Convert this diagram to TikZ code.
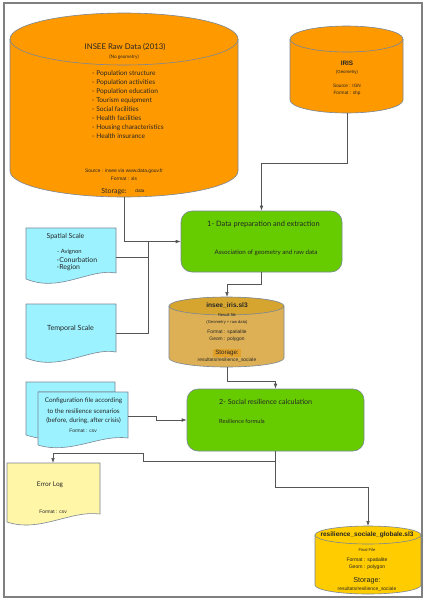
\documentclass[tikz,border=0pt]{standalone}
\usepackage{fontspec}
\setmainfont{Lato}
\newfontfamily\arialf{Liberation Sans}
\usetikzlibrary{arrows.meta}
\newcommand\myfs[1]{\fontsize{#1}{#1}\selectfont}
\definecolor{orangec}{HTML}{FF9900}
\definecolor{greenc}{HTML}{66CC00}
\definecolor{cyanc}{HTML}{9CF3FF}
\definecolor{yellowc}{HTML}{FFF6A8}
\definecolor{tanc}{HTML}{DDB056}
\definecolor{tantop}{HTML}{D6A530}
\definecolor{tanhl}{HTML}{E3A12A}
\definecolor{goldc}{HTML}{FFCC00}
\definecolor{edgec}{HTML}{7A8796}
\definecolor{linec}{HTML}{555555}
\tikzset{
  shapeedge/.style={draw=edgec, line width=0.6pt},
  conn/.style={draw=linec, line width=0.6pt, -{Latex[length=5pt,width=3.6pt]}},
  plainline/.style={draw=linec, line width=0.6pt},
  anchorbox/.style={draw=none, inner sep=0pt},
  txt/.style={inner sep=0pt, text=black!85},
}
\begin{document}
\begin{tikzpicture}[x=1pt,y=-1pt]
\useasboundingbox (0,0) rectangle (426,600);
\fill[white] (0,0) rectangle (426,600);

% ---------- INSEE cylinder ----------
\fill[orangec] (10,39) -- (10,171) arc[start angle=180,end angle=0,x radius=114,y radius=26] -- (238,39) arc[start angle=0,end angle=-180,x radius=114,y radius=26] -- cycle;
\draw[shapeedge] (10,39) -- (10,171) arc[start angle=180,end angle=0,x radius=114,y radius=26] -- (238,39);
\draw[shapeedge] (124,39) ellipse[x radius=114,y radius=26];
\node[anchorbox, minimum width=228, minimum height=184] (insee) at (124,105) {};
\coordinate (inseeB) at (124,197);
\node[txt] (inseeT) at (125,47) {\myfs{7.8}INSEE Raw Data (2013)};
\node[txt] (inseeN) at (124,57) {\myfs{4.7}(No geometry)};
\node[txt, anchor=north west, align=left, font=\fontsize{6.6}{9}\selectfont] (inseeL) at (92,70.3) {- Population structure\\
- Population activities\\
- Population education\\
- Tourism equipment\\
- Social facilities\\
- Health facilities\\
- Housing characteristics\\
- Health insurance};
\node[txt] (inseeS) at (124,171) {\arialf\myfs{4.9}Source : insee via www.data.gouv.fr};
\node[txt] (inseeF) at (124,178.5) {\arialf\myfs{4.9}Format : xls};
\node[txt] (inseeSt) at (114,192) {\myfs{7}Storage:};
\node[txt] (inseeD) at (140,191) {\arialf\myfs{4.7}data};

% ---------- IRIS cylinder ----------
\fill[orangec] (290,39) -- (290,100) arc[start angle=180,end angle=0,x radius=56.5,y radius=13] -- (403,39) arc[start angle=0,end angle=-180,x radius=56.5,y radius=13] -- cycle;
\draw[shapeedge] (290,39) -- (290,100) arc[start angle=180,end angle=0,x radius=56.5,y radius=13] -- (403,39);
\draw[shapeedge] (346.5,39) ellipse[x radius=56.5,y radius=13];
\node[anchorbox, minimum width=113, minimum height=87] (iris) at (346.5,69.5) {};
\coordinate (irisB) at (347,113);
\node[txt] (irisT) at (347,63) {\arialf\bfseries\myfs{6.4}IRIS};
\node[txt] (irisG) at (347,72) {\arialf\myfs{4.4}(Geometry)};
\node[txt] (irisS) at (347,86) {\arialf\myfs{4.7}Source : IGN};
\node[txt] (irisF) at (347,93) {\arialf\myfs{4.7}Format : shp};

% ---------- Box 1 ----------
\node[shapeedge, fill=greenc, rounded corners=11pt, minimum width=161, minimum height=61, inner sep=0pt] (b1) at (261.5,241.5) {};
\node[txt] (b1t) at (263.5,224) {\myfs{7.4}1- Data preparation and extraction};
\node[txt] (b1s) at (266,253) {\myfs{6.2}Association of geometry and raw data};

% ---------- Spatial scale ----------
\fill[cyanc] (26,228) -- (116,228) -- (116,273) .. controls (90,268) and (60,293) .. (26,279) -- cycle;
\draw[shapeedge] (26,228) -- (116,228) -- (116,273) .. controls (90,268) and (60,293) .. (26,279) -- cycle;
\node[anchorbox, minimum width=90, minimum height=58] (sp) at (71,257) {};
\node[txt] (spT) at (65.5,237) {\myfs{6.9}Spatial Scale};
\node[txt, anchor=west] (sp1) at (57,252) {\myfs{5.8}- Avignon};
\node[txt, anchor=west] (sp2) at (56.5,259.5) {\myfs{6.9}-Conurbation};
\node[txt, anchor=west] (sp3) at (56.5,268) {\myfs{6.9}-Region};

% ---------- Temporal scale ----------
\fill[cyanc] (26,304) -- (116,304) -- (116,352) .. controls (90,347) and (60,372) .. (26,358) -- cycle;
\draw[shapeedge] (26,304) -- (116,304) -- (116,352) .. controls (90,347) and (60,372) .. (26,358) -- cycle;
\node[anchorbox, minimum width=90, minimum height=58] (tp) at (71,333) {};
\node[txt] (tpT) at (70.5,328) {\myfs{7.1}Temporal Scale};

% ---------- insee_iris cylinder ----------
\fill[tanc] (169,306) -- (169,358) arc[start angle=180,end angle=0,x radius=57.5,y radius=9] -- (284,306) arc[start angle=0,end angle=-180,x radius=57.5,y radius=9] -- cycle;
\fill[tantop] (226.5,306) ellipse[x radius=57.5,y radius=9];
\draw[shapeedge] (169,306) -- (169,358) arc[start angle=180,end angle=0,x radius=57.5,y radius=9] -- (284,306);
\draw[shapeedge] (226.5,306) ellipse[x radius=57.5,y radius=9];
\node[anchorbox, minimum width=115, minimum height=70] (ii) at (226.5,332) {};
\coordinate (iiT) at (227,297);
\coordinate (iiB) at (227,367);
\node[txt] (iiTt) at (227,306) {\arialf\bfseries\myfs{6.6}insee\_iris.sl3};
\node[txt] (ii1) at (227,315.5) {\arialf\myfs{4.1}Result file};
\node[txt] (ii2) at (227,322) {\arialf\myfs{4.1}(Geometry + raw data)};
\node[txt] (ii3) at (227,332) {\arialf\myfs{4.9}Format : spatialite};
\node[txt] (ii4) at (227,339) {\arialf\myfs{4.9}Geom : polygon};
\node[txt, fill=tanhl, inner xsep=2pt, inner ysep=1pt] (ii5) at (227,353) {\arialf\myfs{6.2}Storage:};
\node[txt] (ii6) at (227,360) {\arialf\myfs{4.9}resultats/resilience\_sociale};

% ---------- Box 2 ----------
\node[shapeedge, fill=greenc, rounded corners=11pt, minimum width=177, minimum height=62, inner sep=0pt] (b2) at (275.5,420) {};
\node[txt, anchor=west] (b2t) at (219,402) {\myfs{7.1}2- Social resilience calculation};
\node[txt, anchor=west] (b2s) at (219,421) {\myfs{5.7}Resilience formula};

% ---------- Configuration file ----------
\fill[cyanc] (26,382) -- (115,382) -- (115,392) -- (38,392) -- (38,438) .. controls (33,437) and (29,436) .. (26,435) -- cycle;
\draw[shapeedge] (38,392) -- (115,392) (115,392) -- (115,382) -- (26,382) -- (26,435) .. controls (29,436) and (33,437) .. (38,438);
\fill[cyanc] (38,392) -- (128,392) -- (128,438) .. controls (100,434) and (70,455) .. (38,445) -- cycle;
\draw[shapeedge] (38,392) -- (128,392) -- (128,438) .. controls (100,434) and (70,455) .. (38,445) -- cycle;
\node[anchorbox, minimum width=90, minimum height=48] (cf) at (83,416) {};
\node[txt] (cf1) at (83.5,401) {\myfs{6.4}Configuration file according};
\node[txt] (cf2) at (83.5,411) {\myfs{6.4}to the resilience scenarios};
\node[txt] (cf3) at (83.5,421) {\myfs{6.4}(before, during, after crisis)};
\node[txt] (cf4) at (83,431) {\arialf\myfs{4.9}Format : csv};

% ---------- Error log ----------
\fill[yellowc] (7,463) -- (100,463) -- (100,514) .. controls (70,510) and (40,533) .. (7,522) -- cycle;
\draw[shapeedge] (7,463) -- (100,463) -- (100,514) .. controls (70,510) and (40,533) .. (7,522) -- cycle;
\node[anchorbox, minimum width=93, minimum height=60] (el) at (53,493) {};
\node[txt] (elT) at (50,485) {\myfs{6.5}Error Log};
\node[txt] (elF) at (53,512) {\arialf\myfs{4.9}Format : csv};

% ---------- Final cylinder ----------
\fill[goldc] (315,535) -- (315,585) arc[start angle=180,end angle=0,x radius=53,y radius=9] -- (421,535) arc[start angle=0,end angle=-180,x radius=53,y radius=9] -- cycle;
\draw[shapeedge] (315,535) -- (315,585) arc[start angle=180,end angle=0,x radius=53,y radius=9] -- (421,535);
\draw[shapeedge] (368,535) ellipse[x radius=53,y radius=9];
\node[anchorbox, minimum width=106, minimum height=68] (fin) at (368,560) {};
\coordinate (finT) at (368,526);
\node[txt] (fin1) at (367,534.5) {\arialf\bfseries\myfs{6.5}resilience\_sociale\_globale.sl3};
\node[txt] (fin2) at (367,550) {\arialf\myfs{4.1}Final File};
\node[txt] (fin3) at (367,560) {\arialf\myfs{5.1}Format : spatialite};
\node[txt] (fin4) at (367,567) {\arialf\myfs{5.1}Geom : polygon};
\node[txt] (fin5) at (367,581) {\arialf\myfs{7.2}Storage:};
\node[txt] (fin6) at (367,589) {\arialf\myfs{4.9}resultats/resilience\_sociale};

% ---------- Connectors ----------
\coordinate (jn) at (148,242);
\draw[conn] (inseeB) |- (b1.west);
\draw[plainline] (116,257) -| (jn);
\draw[plainline] (116,333) -| (jn);
\draw[conn] (irisB) -- (347,163) -| (b1.north);
\draw[conn] (b1.south) -- (261.5,284) -| (iiT);
\draw[conn] (iiB) -- (227,381) -| (b2.north);
\draw[conn] (128,416) -- (156,416) |- (b2.west);
\draw[conn] (b2.south) -- (275.5,487) -| (finT);
\draw[conn] (b2.south) |- (143,461) |- (53,453) -- (el.north |- 0,463);

% ---------- Frame ----------
\draw[draw=black!50, line width=1.4pt] (4,3) rectangle (422,597);
\end{tikzpicture}
\end{document}
